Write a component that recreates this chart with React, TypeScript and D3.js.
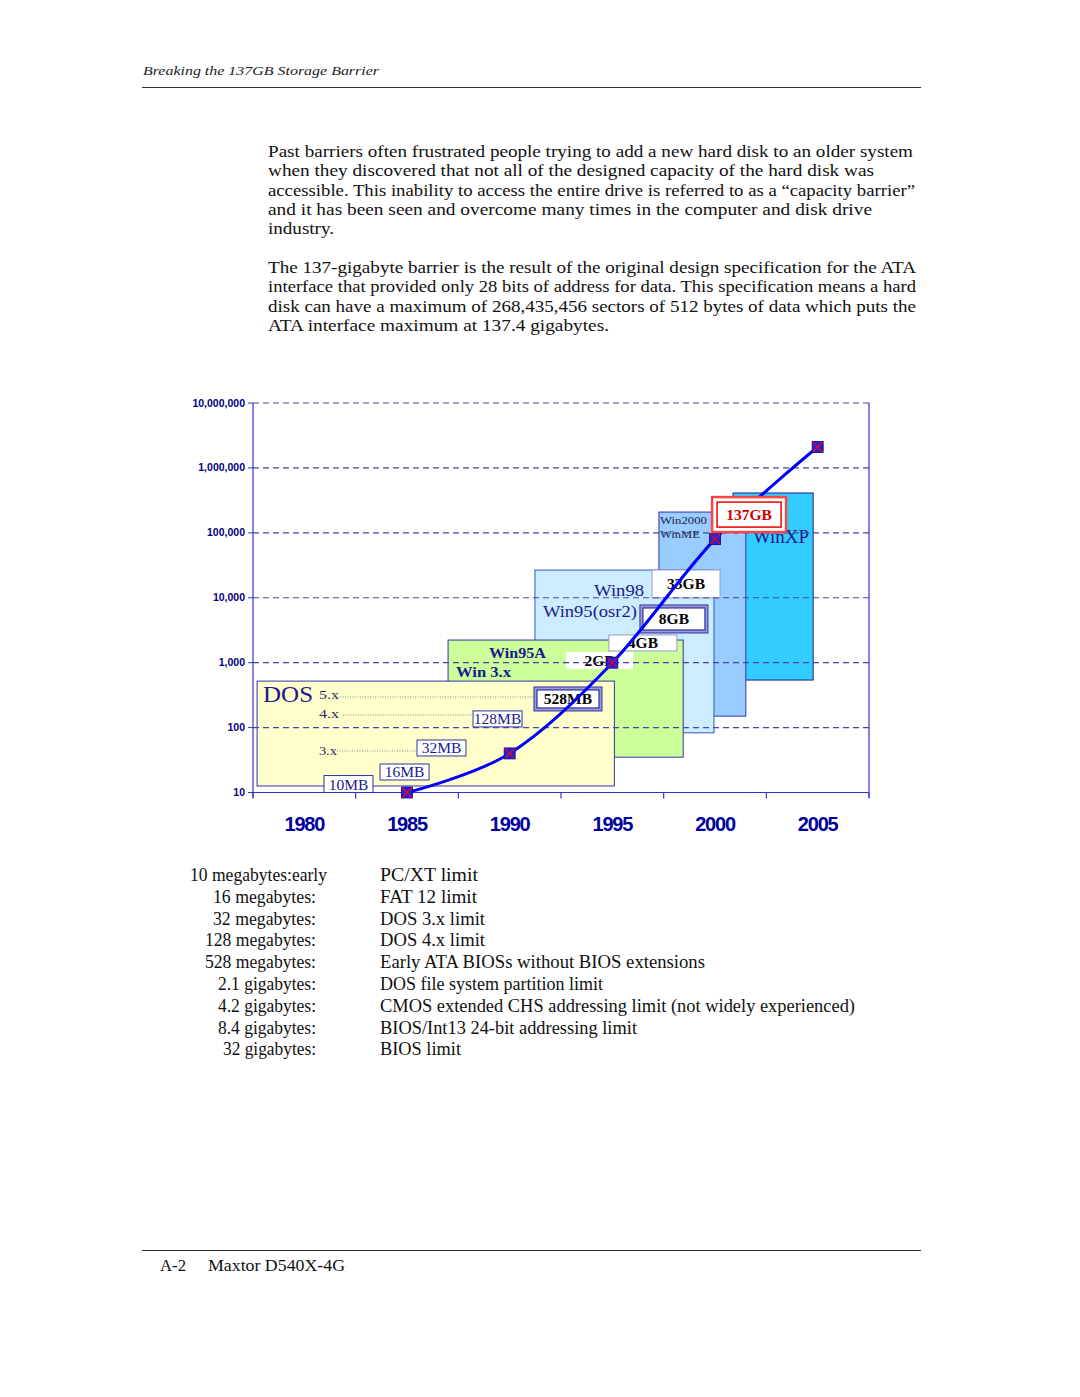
import React from 'react';
import * as d3 from 'd3';

// chart values (MB, log scale)
const years = ['1980', '1985', '1990', '1995', '2000', '2005'];
const pointYears = ['1985', '1990', '1995', '2000', '2005'];
const capacityMB = [10, 40, 1000, 80000, 2100000];
const yTicks = [10, 100, 1000, 10000, 100000, 1000000, 10000000];

// page text
const paragraphOne = [
  'Past barriers often frustrated people trying to add a new hard disk to an older system',
  'when they discovered that not all of the designed capacity of the hard disk was',
  'accessible. This inability to access the entire drive is referred to as a \u201ccapacity barrier\u201d',
  'and it has been seen and overcome many times in the computer and disk drive',
  'industry.',
];
const paragraphOneWidths = [645, 606, 647, 604, 66];
const paragraphTwo = [
  'The 137-gigabyte barrier is the result of the original design specification for the ATA',
  'interface that provided only 28 bits of address for data. This specification means a hard',
  'disk can have a maximum of 268,435,456 sectors of 512 bytes of data which puts the',
  'ATA interface maximum at 137.4 gigabytes.',
];
const paragraphTwoWidths = [648, 648, 648, 341];

const limitSizes = ['10 megabytes:early', '16 megabytes:', '32 megabytes:', '128 megabytes:', '528 megabytes:',
  '2.1 gigabytes:', '4.2 gigabytes:', '8.4 gigabytes:', '32 gigabytes:'];
const limitSizeWidths = [137, 103, 103, 111, 111, 98, 98, 98, 93];
const limitNotes = ['PC/XT limit', 'FAT 12 limit', 'DOS 3.x limit', 'DOS 4.x limit',
  'Early ATA BIOSs without BIOS extensions', 'DOS file system partition limit',
  'CMOS extended CHS addressing limit (not widely experienced)', 'BIOS/Int13 24-bit addressing limit', 'BIOS limit'];
const limitNoteWidths = [98, 97, 105, 105, 325, 223, 475, 257, 81];

// annotation shapes, in (year, MB) units; listed back to front
const osBoxes = [
  { from: 2000.88, to: 2004.78, low: 540, high: 411000, fill: '#33CCFF', stroke: '#1a1a99' },
  { from: 1997.27, to: 2001.5, low: 150, high: 209000, fill: '#99CCFF', stroke: '#3333BB' },
  { from: 1991.23, to: 1999.95, low: 83, high: 26700, fill: '#CCECFF', stroke: '#3355BB' },
  { from: 1987.0, to: 1998.45, low: 35, high: 2230, fill: '#CCFF99', stroke: '#3333AA' },
  { from: 1977.7, to: 1995.1, low: 12.6, high: 520, fill: '#FFFFCC', stroke: '#3333AA' },
];

const sizeLabels = [
  { text: '10MB', year: 1982.15, mb: 13.5, w: 49, h: 17, kind: 'plain' },
  { text: '16MB', year: 1984.88, mb: 20.7, w: 49, h: 16, kind: 'plain' },
  { text: '32MB', year: 1986.68, mb: 48.5, w: 49, h: 16, kind: 'plain' },
  { text: '128MB', year: 1989.41, mb: 136, w: 49, h: 16, kind: 'plain' },
  { text: '528MB', year: 1992.84, mb: 276, w: 68, h: 24, kind: 'double' },
  { text: '2GB', year: 1994.38, mb: 1080, w: 67, h: 17, kind: 'bare' },
  { text: '4GB', year: 1996.49, mb: 2010, w: 68, h: 16, kind: 'bold' },
  { text: '8GB', year: 1998.0, mb: 4710, w: 68, h: 28, kind: 'double' },
  { text: '33GB', year: 1998.59, mb: 16300, w: 68, h: 28, kind: 'bold' },
];
const topLabel = { text: '137GB', year: 2001.66, mb: 191000, w: 74, h: 35 };

// box index each caption belongs to (drawn together with its box)
const osTexts = [
  { box: 4, text: 'DOS', year: 1977.99, mb: 248, size: 23, weight: 'normal', color: '#1a1a8c', len: 50 },
  { box: 4, text: '5.x', year: 1980.71, mb: 275, size: 13, weight: 'normal', color: '#2a2a70', len: 20 },
  { box: 4, text: '4.x', year: 1980.71, mb: 140, size: 13, weight: 'normal', color: '#2a2a70', len: 20 },
  { box: 4, text: '3.x', year: 1980.71, mb: 38, size: 13, weight: 'normal', color: '#2a2a70', len: 18 },
  { box: 3, text: 'Win95A', year: 1988.99, mb: 1180, size: 14, weight: 'bold', color: '#1a1a8c', len: 57 },
  { box: 3, text: 'Win 3.x', year: 1987.39, mb: 600, size: 14, weight: 'bold', color: '#1a1a8c', len: 55 },
  { box: 2, text: 'Win98', year: 1994.11, mb: 10600, size: 17, weight: 'normal', color: '#1a1a8c', len: 50 },
  { box: 2, text: 'Win95(osr2)', year: 1991.62, mb: 5050, size: 17, weight: 'normal', color: '#1a1a8c', len: 94 },
  { box: 1, text: 'Win2000', year: 1997.32, mb: 137000, size: 11, weight: 'normal', color: '#222244', len: 47 },
  { box: 1, text: 'WinME', year: 1997.32, mb: 83000, size: 11, weight: 'normal', color: '#222244', len: 40 },
  { box: 0, text: 'WinXP', year: 2001.85, mb: 69700, size: 18, weight: 'normal', color: '#1a1a8c', len: 56 },
];

const dotLeaders = [
  { from: 1981.74, to: 1991.19, mb: 296 },
  { from: 1981.88, to: 1988.21, mb: 156 },
  { from: 1981.59, to: 1985.49, mb: 43.6 },
];

const plot = { left: 253, right: 869, top: 403, bottom: 792.5 };
const serif = '"Liberation Serif", "Times New Roman", serif';
const sans = '"Liberation Sans", Arial, sans-serif';

const App = () => {
  const x = d3.scaleBand().domain(years).range([plot.left, plot.right]);
  const xYear = d3.scaleLinear().domain([1977.5, 2007.5]).range([plot.left, plot.right]);
  const y = d3.scaleLog().domain([10, 10000000]).range([plot.bottom, plot.top]);
  const fmt = d3.format(',');
  const cx = (yr: string) => (x(yr) as number) + x.bandwidth() / 2;

  const pts = pointYears.map((yr, i) => [cx(yr), y(capacityMB[i])] as [number, number]);
  const path = d3.line().curve(d3.curveCardinal)(pts) || '';

  const labelBox = (l: any, i: number) => {
    const lx = xYear(l.year) - l.w / 2;
    const ly = y(l.mb) - l.h / 2;
    const mid = y(l.mb);
    const bold = l.kind !== 'plain';
    return (
      <g key={'lb' + i}>
        {l.kind === 'double' ? (
          <>
            <rect x={lx} y={ly} width={l.w} height={l.h} fill="#9999DD" stroke="#333399" strokeWidth={1} />
            <rect x={lx + 3} y={ly + 3} width={l.w - 6} height={l.h - 6} fill="#fff" stroke="#333399" strokeWidth={1.2} />
          </>
        ) : (
          <rect x={lx} y={ly} width={l.w} height={l.h} fill="#fff"
            stroke={l.kind === 'bare' ? 'none' : l.kind === 'bold' ? '#9999cc' : '#333399'} strokeWidth={1} />
        )}
        <text x={lx + l.w / 2} y={mid + 5.5} textAnchor="middle" fontFamily={serif}
          fontSize={15.5} fontWeight={bold ? 'bold' : 'normal'} fill={bold ? '#000' : '#1a1a8c'}>{l.text}</text>
      </g>
    );
  };

  return (
    <svg width={1080} height={1397} style={{ position: 'absolute', left: 0, top: 0, background: '#fff' }}>
      {/* header */}
      <text x={143} y={75} fontFamily={serif} fontStyle="italic" fontSize={13.5} textLength={236}
        lengthAdjust="spacingAndGlyphs" fill="#222">Breaking the 137GB Storage Barrier</text>
      <line x1={142} x2={921} y1={87.5} y2={87.5} stroke="#333" strokeWidth={1} />

      {/* body text */}
      {paragraphOne.map((t, i) => (
        <text key={'a' + i} x={268} y={157 + i * 19.3} fontFamily={serif} fontSize={17.5} fill="#111"
          textLength={paragraphOneWidths[i]} lengthAdjust="spacingAndGlyphs">{t}</text>
      ))}
      {paragraphTwo.map((t, i) => (
        <text key={'b' + i} x={268} y={273 + i * 19.3} fontFamily={serif} fontSize={17.5} fill="#111"
          textLength={paragraphTwoWidths[i]} lengthAdjust="spacingAndGlyphs">{t}</text>
      ))}

      {/* os boxes with their captions, back to front */}
      {osBoxes.map((b, i) => (
        <g key={'os' + i}>
          <rect x={xYear(b.from)} y={y(b.high)} width={xYear(b.to) - xYear(b.from)}
            height={y(b.low) - y(b.high)} fill={b.fill} stroke={b.stroke} strokeWidth={1} />
          {osTexts.filter((t) => t.box === i).map((t, j) => (
            <text key={'ot' + j} x={xYear(t.year)} y={y(t.mb)} fontFamily={serif} fontSize={t.size}
              fontWeight={t.weight} fill={t.color} textLength={t.len} lengthAdjust="spacingAndGlyphs">{t.text}</text>
          ))}
        </g>
      ))}

      {dotLeaders.map((d, i) => (
        <line key={'dl' + i} x1={xYear(d.from)} x2={xYear(d.to)} y1={y(d.mb)} y2={y(d.mb)}
          stroke="#666688" strokeWidth={0.8} strokeDasharray="1 1.5" />
      ))}

      {sizeLabels.map(labelBox)}

      {/* grid */}
      {yTicks.map((v) => (
        <g key={'g' + v}>
          <line x1={plot.left} x2={plot.right} y1={y(v)} y2={y(v)} stroke="#4444AA" strokeWidth={1.1} strokeDasharray="6 4" />
          <line x1={plot.left - 5} x2={plot.left} y1={y(v)} y2={y(v)} stroke="#3333CC" strokeWidth={1} />
          <text x={plot.left - 8} y={y(v) + 3.5} textAnchor="end" fontFamily={sans} fontWeight="bold" fontSize={10.5}
            fill="#000080">{fmt(v)}</text>
        </g>
      ))}

      {/* axes */}
      <line x1={plot.left} x2={plot.left} y1={plot.top} y2={plot.bottom + 5} stroke="#3333CC" strokeWidth={1.2} />
      <line x1={plot.right} x2={plot.right} y1={plot.top} y2={plot.bottom + 5} stroke="#3333CC" strokeWidth={1.2} />
      <line x1={plot.left} x2={plot.right} y1={plot.bottom} y2={plot.bottom} stroke="#3333CC" strokeWidth={1.2} />
      {d3.range(years.length + 1).map((i) => (
        <line key={'xt' + i} x1={plot.left + i * x.bandwidth()} x2={plot.left + i * x.bandwidth()}
          y1={plot.bottom} y2={plot.bottom + 6} stroke="#3333CC" strokeWidth={1.2} />
      ))}
      {years.map((yr) => (
        <text key={'xl' + yr} x={cx(yr)} y={831} textAnchor="middle" fontFamily={sans} fontWeight="bold"
          fontSize={20} letterSpacing={-1.2} fill="#0000A0">{yr}</text>
      ))}

      {/* capacity line */}
      <path d={path} fill="none" stroke="#0000FF" strokeWidth={3} />
      {pts.map(([px, py], i) => (
        <g key={'m' + i}>
          <rect x={px - 5.5} y={py - 5.5} width={11} height={11} fill="#2222DD" stroke="#0000AA" strokeWidth={0.8} />
          <line x1={px - 5} x2={px + 5} y1={py - 5} y2={py + 5} stroke="#FF0000" strokeWidth={1.2} />
          <line x1={px - 5} x2={px + 5} y1={py + 5} y2={py - 5} stroke="#FF0000" strokeWidth={1.2} />
        </g>
      ))}

      {/* 137GB sits over the line */}
      {(() => {
        const lx = xYear(topLabel.year) - topLabel.w / 2;
        const ly = y(topLabel.mb) - topLabel.h / 2;
        return (
          <g>
            <rect x={lx} y={ly} width={topLabel.w} height={topLabel.h} fill="#fff" stroke="#FF4444" strokeWidth={2.5} />
            <rect x={lx + 5} y={ly + 5} width={topLabel.w - 10} height={topLabel.h - 10} fill="#fff" stroke="#EE0000" strokeWidth={1.5} />
            <text x={lx + topLabel.w / 2} y={y(topLabel.mb) + 5.5} textAnchor="middle" fontFamily={serif} fontSize={15.5}
              fontWeight="bold" fill="#CC0000">{topLabel.text}</text>
          </g>
        );
      })()}

      {/* limits list */}
      {limitSizes.map((t, i) => (
        <text key={'ls' + i} x={i === 0 ? 327 : 316} y={881 + i * 21.8} textAnchor="end" fontFamily={serif} fontSize={18}
          fill="#111" textLength={limitSizeWidths[i]} lengthAdjust="spacingAndGlyphs">{t}</text>
      ))}
      {limitNotes.map((t, i) => (
        <text key={'ln' + i} x={380} y={881 + i * 21.8} fontFamily={serif} fontSize={18}
          fill="#111" textLength={limitNoteWidths[i]} lengthAdjust="spacingAndGlyphs">{t}</text>
      ))}

      {/* footer */}
      <line x1={142} x2={921} y1={1250.5} y2={1250.5} stroke="#333" strokeWidth={1} />
      <text x={160} y={1271} fontFamily={serif} fontSize={16} fill="#111" textLength={26} lengthAdjust="spacingAndGlyphs">A-2</text>
      <text x={208} y={1271} fontFamily={serif} fontSize={16} fill="#111" textLength={137} lengthAdjust="spacingAndGlyphs">Maxtor D540X-4G</text>
    </svg>
  );
};

export default App;
